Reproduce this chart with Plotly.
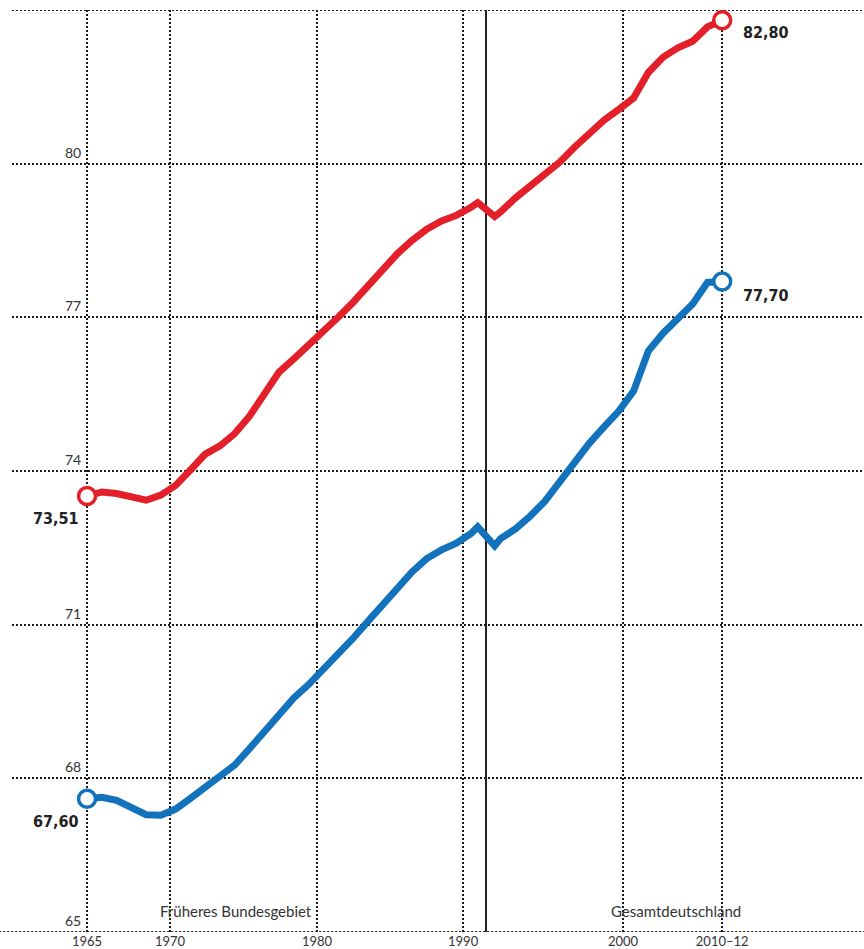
import plotly.graph_objects as go

# chart position of each life-table period (index units)
pos = list(range(0, 27)) + [26.45, 27.6] + list(range(28, 44))

women = [73.51, 73.59, 73.56, 73.51, 73.43, 73.53, 73.72, 74.02, 74.33, 74.49,
         74.73, 75.07, 75.50, 75.93, 76.19, 76.45, 76.73, 77.00, 77.29, 77.62,
         77.94, 78.24, 78.50, 78.72, 78.88, 78.99, 79.15,
         79.24, 78.97,
         79.06, 79.33, 79.56, 79.79, 80.03, 80.32, 80.60, 80.85, 81.06, 81.28,
         81.78, 82.08, 82.26, 82.39, 82.67, 82.80]

men = [67.60, 67.63, 67.57, 67.42, 67.29, 67.28, 67.40, 67.61, 67.84, 68.03,
       68.26, 68.58, 68.91, 69.24, 69.57, 69.83, 70.12, 70.40, 70.73, 71.06,
       71.40, 71.69, 72.03, 72.29, 72.46, 72.59, 72.78,
       72.91, 72.54,
       72.68, 72.87, 73.12, 73.41, 73.79, 74.17, 74.54, 74.86, 75.17, 75.56,
       76.34, 76.69, 76.98, 77.26, 77.68, 77.70]

tick_labels = ["1965", "1970", "1980", "1990", "2000", "2010–12"]
tick_pos = [0, 5.62, 15.57, 25.46, 36.29, 43]
reunification_pos = 27.01

y_ticks = [65, 68, 71, 74, 77, 80, 83]
y_labels = ["65", "68", "71", "74", "77", "80", ""]

start_labels = ["73,51", "67,60"]
end_labels = ["82,80", "77,70"]
region_labels = ["Früheres Bundesgebiet", "Gesamtdeutschland"]
region_pos = [10.1, 39.9]

RED = "#e3202a"
BLUE = "#1372bc"
GRID = "#1a1a1a"
TXT = "#333333"
FONT = "Lato"
BOLD = "DejaVu Sans Condensed"

fig = go.Figure()

for vals, col in [(women, RED), (men, BLUE)]:
    fig.add_trace(go.Scatter(x=pos, y=vals, mode="lines",
                             line=dict(color=col, width=7),
                             hoverinfo="skip", showlegend=False))
for vals, col in [(women, RED), (men, BLUE)]:
    fig.add_trace(go.Scatter(x=[pos[0], pos[-1]], y=[vals[0], vals[-1]],
                             mode="markers",
                             marker=dict(size=17, color="white",
                                         line=dict(color=col, width=3.5)),
                             hoverinfo="skip", showlegend=False))

bold_font = dict(family=BOLD, size=16, color="#222222", weight="bold")
ann = []
for vals, s, ys in [(women, start_labels[0], -22), (men, start_labels[1], -23)]:
    ann.append(dict(x=pos[0], y=vals[0], text=s, showarrow=False,
                    xanchor="right", yanchor="middle", xshift=-6, yshift=ys,
                    font=bold_font))
for vals, e, ys in [(women, end_labels[0], -12), (men, end_labels[1], -14)]:
    ann.append(dict(x=pos[-1], y=vals[-1], text=e, showarrow=False,
                    xanchor="left", yanchor="middle", xshift=19, yshift=ys,
                    font=bold_font))
for v, lab in zip(y_ticks, y_labels):
    if lab:
        ann.append(dict(x=tick_pos[0], y=v, text=lab, showarrow=False,
                        xanchor="right", yanchor="bottom", xshift=-4, yshift=1,
                        font=dict(family=FONT, size=14, color=TXT)))
for p, lab in zip(region_pos, region_labels):
    ann.append(dict(x=p, y=y_ticks[0], text=lab, showarrow=False,
                    xanchor="center", yanchor="bottom", yshift=10,
                    font=dict(family=FONT, size=15, color=TXT)))

grid_line = dict(color=GRID, width=2, dash="2px,2px")
shapes = [
    dict(type="line", xref="x", yref="paper", x0=reunification_pos,
         x1=reunification_pos, y0=0, y1=1, line=dict(color="#222222", width=2),
         layer="below"),
    # bottom baseline (extends slightly past the plot's left edge)
    dict(type="line", xref="paper", yref="y", x0=-0.015, x1=1,
         y0=y_ticks[0], y1=y_ticks[0], line=grid_line, layer="below"),
    # top gridline at the range edge
    dict(type="line", xref="paper", yref="y", x0=0, x1=1,
         y0=y_ticks[-1], y1=y_ticks[-1], line=grid_line, layer="below"),
]

fig.update_layout(
    width=864, height=949,
    margin=dict(l=12, r=0, t=10, b=15),
    paper_bgcolor="white", plot_bgcolor="white",
    annotations=ann, shapes=shapes,
    xaxis=dict(range=[-5.08, 52.6], tickvals=tick_pos, ticktext=tick_labels,
               showgrid=True, gridcolor=GRID, gridwidth=2, griddash="2px,2px",
               zeroline=False, showline=False, ticks="",
               tickfont=dict(family=FONT, size=13, color=TXT)),
    yaxis=dict(range=[65, 83], tickvals=y_ticks, showticklabels=False,
               showgrid=True, gridcolor=GRID, gridwidth=2, griddash="2px,2px",
               zeroline=False, showline=False, ticks=""),
)

fig.write_html("out.html",
               config={"displayModeBar": False},
               post_script="document.body.style.margin='0';"
                           "document.body.style.overflow='hidden';")
